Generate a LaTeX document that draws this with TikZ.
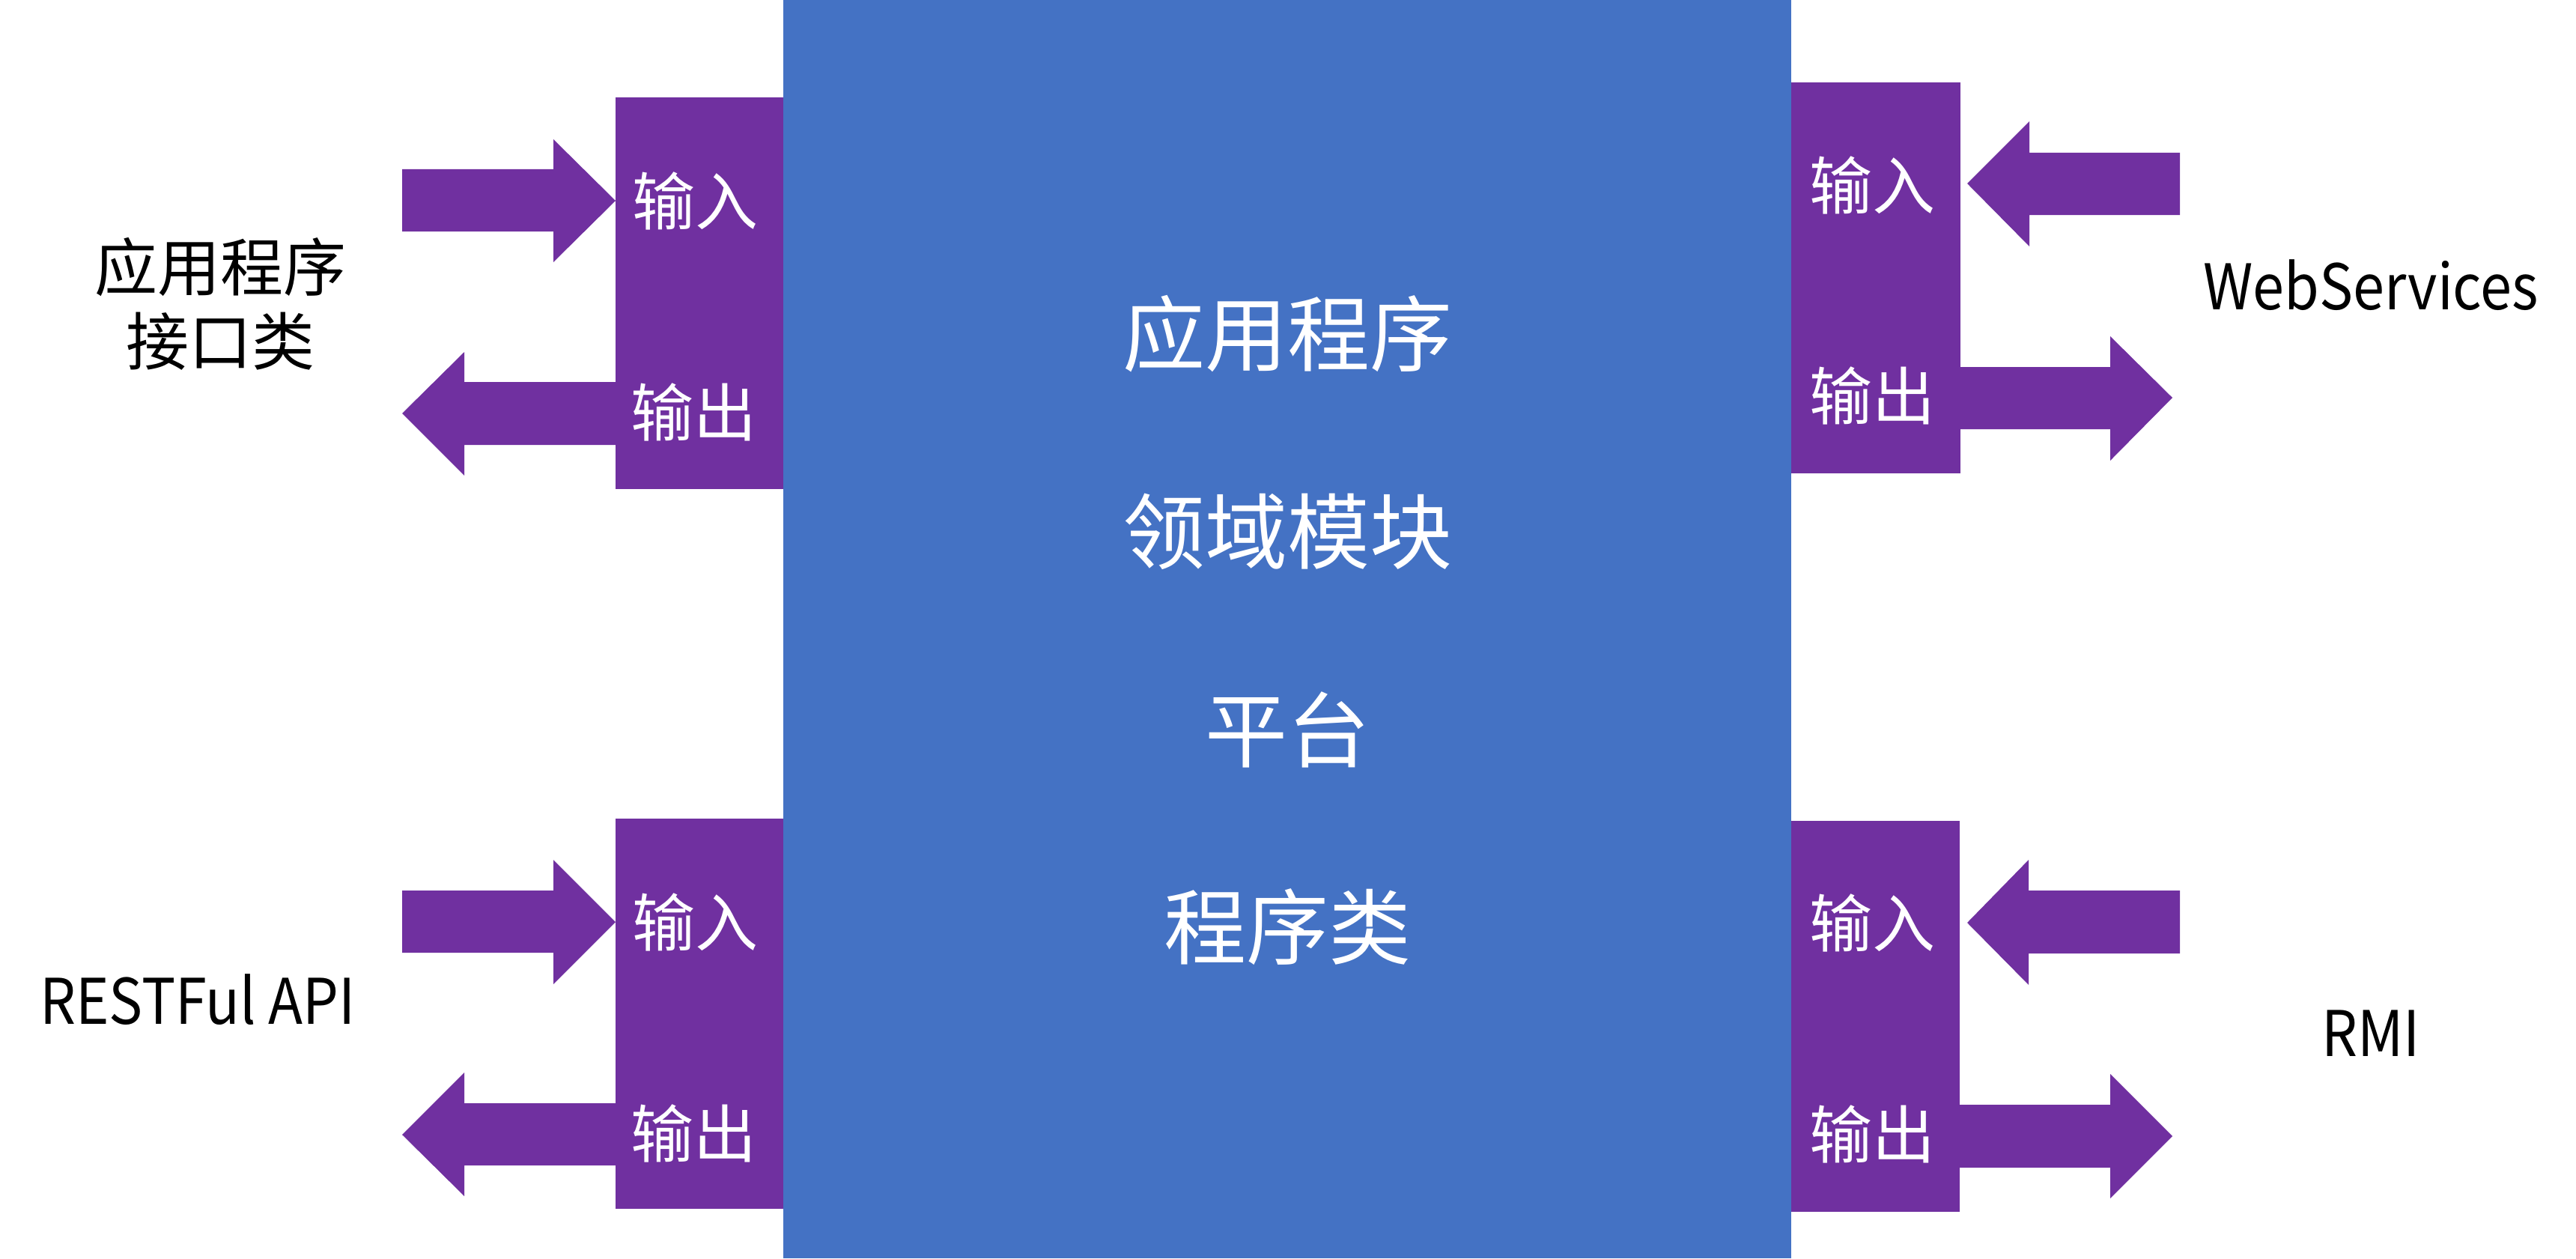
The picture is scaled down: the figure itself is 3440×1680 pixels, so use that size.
\documentclass[tikz,border=0pt]{standalone}
\usepackage{fontspec}
\setmainfont{Noto Sans CJK SC}
\newfontfamily\latinfont[FakeStretch=0.9]{Noto Sans CJK SC}
\definecolor{coreblue}{HTML}{4472C4}
\definecolor{iopurple}{HTML}{7030A0}
\begin{document}
\begin{tikzpicture}[x=0.5pt,y=-0.5pt,
  iolabel/.style={text=white,font=\fontsize{42}{50}\selectfont,inner sep=0pt,anchor=center},
  corelabel/.style={text=white,font=\fontsize{55}{60}\selectfont,inner sep=0pt,anchor=center},
  sidelabel/.style={text=black,font=\fontsize{42}{49.5}\selectfont,inner sep=0pt,align=center},
  latinlabel/.style={text=black,font=\latinfont\fontsize{42}{49.5}\selectfont,inner sep=0pt,anchor=base},
  purplefill/.style={fill=iopurple},
]
\useasboundingbox (0,0) rectangle (3440,1680);
\fill[white] (0,0) rectangle (3440,1680);
% core block
\fill[coreblue] (1046,0) rectangle (2392,1680);
\node[corelabel] (c1) at (1719,446) {应用程序};
\node[corelabel] (c2) at (1719,710) {领域模块};
\node[corelabel] (c3) at (1719,974) {平台};
\node[corelabel] (c4) at (1719,1238) {程序类};

% ---- left top
\fill[purplefill] (822,130) rectangle (1046,653);
\fill[purplefill] (537,226) -- (739,226) -- (739,186) -- (822,268) -- (739,350) -- (739,309) -- (537,309) -- cycle;
\fill[purplefill] (822,510) -- (620,510) -- (620,470) -- (537,552) -- (620,635) -- (620,594) -- (822,594) -- cycle;
\node[iolabel] (lti) at (928,268) {输入};
\node[iolabel] (lto) at (926,550) {输出};
\node[sidelabel,anchor=center] (ltl) at (294,406) {应用程序\\接口类};

% ---- left bottom
\fill[purplefill] (822,1093) rectangle (1046,1614);
\fill[purplefill] (537,1189) -- (739,1189) -- (739,1148) -- (822,1231) -- (739,1314) -- (739,1272) -- (537,1272) -- cycle;
\fill[purplefill] (822,1473) -- (620,1473) -- (620,1432) -- (537,1515) -- (620,1597) -- (620,1556) -- (822,1556) -- cycle;
\node[iolabel] (lbi) at (928,1231) {输入};
\node[iolabel] (lbo) at (926,1513) {输出};
\node[latinlabel] (lbl) at (264,1367) {RESTFul API};

% ---- right top
\fill[purplefill] (2392,110) rectangle (2618,632);
\fill[purplefill] (2911,204) -- (2710,204) -- (2710,162) -- (2627,245) -- (2710,329) -- (2710,287) -- (2911,287) -- cycle;
\fill[purplefill] (2618,490) -- (2818,490) -- (2818,449) -- (2901,531) -- (2818,615) -- (2818,573) -- (2618,573) -- cycle;
\node[iolabel] (rti) at (2500,247) {输入};
\node[iolabel] (rto) at (2500,528) {输出};
\node[latinlabel] (rtl) at (3166,413) {WebServices};

% ---- right bottom
\fill[purplefill] (2392,1096) rectangle (2617,1618);
\fill[purplefill] (2911,1189) -- (2709,1189) -- (2709,1148) -- (2627,1232) -- (2709,1315) -- (2709,1273) -- (2911,1273) -- cycle;
\fill[purplefill] (2617,1475) -- (2818,1475) -- (2818,1434) -- (2901,1517) -- (2818,1600) -- (2818,1559) -- (2617,1559) -- cycle;
\node[iolabel] (rbi) at (2500,1232) {输入};
\node[iolabel] (rbo) at (2500,1514) {输出};
\node[latinlabel] (rbl) at (3166,1410) {RMI};
\end{tikzpicture}
\end{document}
